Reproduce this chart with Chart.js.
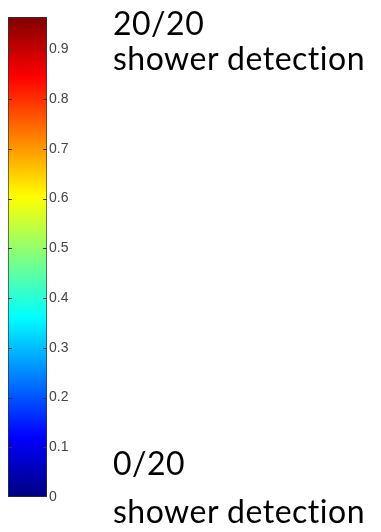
<!DOCTYPE html>
<html>
<head>
<meta charset="utf-8">
<script src="https://cdn.jsdelivr.net/npm/chart.js@4"></script>
<style>
  body { margin: 0; background: #fff; }
  #wrap { position: relative; width: 381px; height: 532px; }
  #wrap canvas { position: absolute; left: 0; top: 0; }
  .lbl { position: absolute; left: 113px; font-family: Lato, sans-serif; font-size: 32px;
         letter-spacing: 0.5px; line-height: 38px; color: #000; white-space: nowrap; }
</style>
</head>
<body>
<div id="wrap">
  <canvas id="bar" width="381" height="532"></canvas>
  <div class="lbl" style="top:4px">20/20</div>
  <div class="lbl" style="top:39px">shower detection</div>
  <div class="lbl" style="top:444px">0/20</div>
  <div class="lbl" style="top:492px">shower detection</div>
</div>
<script>
// colour bar range and ticks
const barRange = [0, 0.965];
const tickValues = [0, 0.1, 0.2, 0.3, 0.4, 0.5, 0.6, 0.7, 0.8, 0.9];
// jet colormap stops (fraction of range, colour)
const jetStops = [0, 0.125, 0.375, 0.625, 0.875, 1];
const jetColors = ['#000080', '#0000ff', '#00ffff', '#ffff00', '#ff0000', '#800000'];

function jetGradient(ctx) {
  const chart = ctx.chart;
  const y = chart.scales.y;
  if (!chart.chartArea) return '#00f';
  const g = chart.ctx.createLinearGradient(0, y.getPixelForValue(barRange[0]), 0, y.getPixelForValue(barRange[1]));
  jetStops.forEach((s, i) => g.addColorStop(s, jetColors[i]));
  return g;
}

// small tick marks inside both edges of the bar
const innerTicks = {
  id: 'innerTicks',
  afterDatasetsDraw(chart) {
    const c = chart.ctx, y = chart.scales.y, a = chart.chartArea;
    c.save();
    c.strokeStyle = '#333';
    c.lineWidth = 1;
    tickValues.forEach(v => {
      const py = Math.round(y.getPixelForValue(v)) + 0.5;
      if (v === 0) return;
      c.beginPath();
      c.moveTo(a.left, py); c.lineTo(a.left + 4, py);
      c.moveTo(a.right - 4, py); c.lineTo(a.right, py);
      c.stroke();
    });
    c.restore();
  }
};

new Chart(document.getElementById('bar'), {
  type: 'bar',
  data: {
    labels: [''],
    datasets: [{
      data: [barRange],
      backgroundColor: jetGradient,
      borderColor: '#333',
      borderWidth: 1,
      borderSkipped: false,
      barPercentage: 1,
      categoryPercentage: 1
    }]
  },
  options: {
    responsive: false,
    animation: false,
    layout: { padding: { left: 8, top: 17, bottom: 35 } },
    plugins: { legend: { display: false }, tooltip: { enabled: false } },
    scales: {
      x: { display: false },
      y: {
        position: 'right',
        min: barRange[0],
        max: barRange[1],
        afterBuildTicks: s => { s.ticks = tickValues.map(v => ({ value: v })); },
        afterFit: s => { s.width = 381 - 47; },
        grid: { display: false, drawTicks: false },
        border: { display: false },
        ticks: {
          padding: 2,
          color: '#444',
          font: { family: 'Liberation Sans', size: 14 },
          callback: v => String(Math.round(v * 10) / 10)
        }
      }
    }
  },
  plugins: [innerTicks]
});
</script>
</body>
</html>
